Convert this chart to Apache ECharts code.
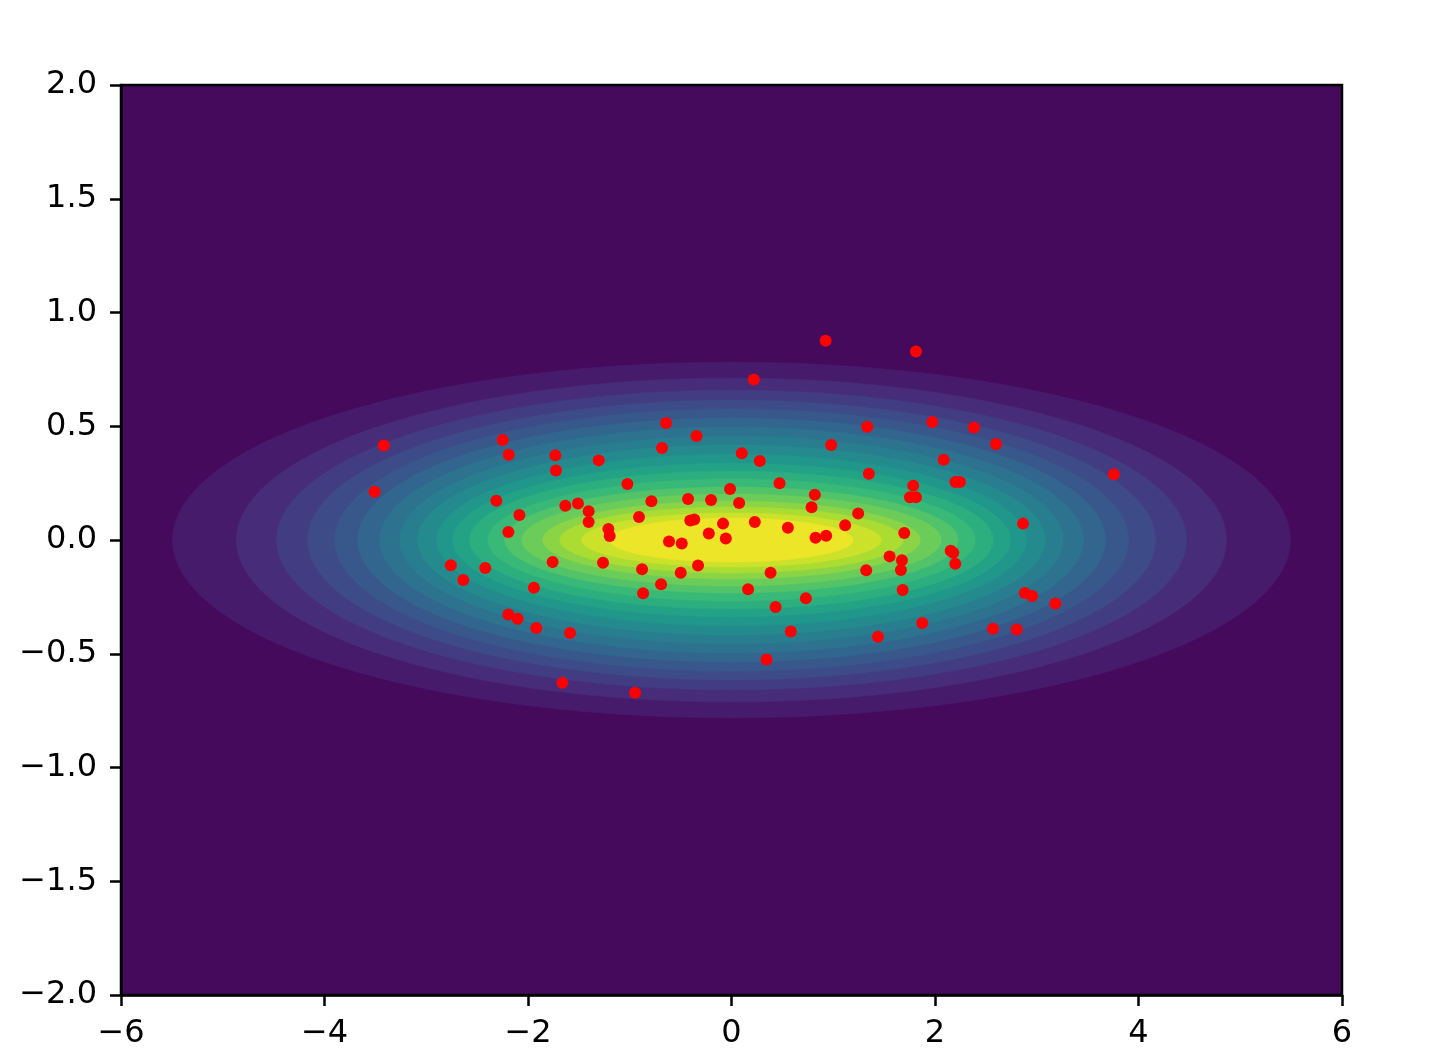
<!DOCTYPE html>
<html>
<head>
<meta charset="utf-8">
<script src="https://cdn.jsdelivr.net/npm/echarts@6/dist/echarts.min.js"></script>
<style>
  html, body { margin: 0; padding: 0; background: #fff; }
  #chart { width: 1435px; height: 1060px; }
</style>
</head>
<body>
<div id="chart"></div>
<script>
// scatter samples (x, y)
const pointsX = [
  -3.417, -3.508, -2.249, -2.190, -1.731, -1.725, -1.305, -2.311, -2.085, -1.633,
  -1.509, -1.404, -1.404, 0.925, 0.219, -0.643, -0.344, -0.683, 0.101, 0.278,
  1.334, 0.980, 1.350, -1.023, -0.787, -0.427, -0.201, -0.014, 0.075, 0.472,
  0.819, 0.787, 1.245, 1.813, 1.973, 2.383, 2.600, 2.085, 2.201, 2.245,
  1.786, 1.754, 1.813, 3.757, -1.210, -1.197, -2.193, -2.758, -2.420, -2.636,
  -1.758, -1.263, -1.942, -2.193, -2.102, -1.918, -1.587, -1.662, -0.909, -0.405,
  -0.366, -0.083, 0.229, 0.554, 1.117, -0.614, -0.489, -0.223, -0.056, 0.826,
  0.930, -0.879, -0.499, -0.329, -0.692, -0.869, 0.384, 0.163, 0.731, 0.433,
  0.583, 0.344, -0.948, 1.324, 2.865, 1.698, 1.554, 1.675, 1.665, 2.154,
  2.180, 2.199, 1.682, 2.882, 2.954, 3.183, 1.875, 2.570, 2.803, 1.439
];
const pointsY = [
  0.415, 0.212, 0.440, 0.375, 0.372, 0.306, 0.350, 0.173, 0.110, 0.151,
  0.160, 0.126, 0.079, 0.876, 0.705, 0.514, 0.457, 0.404, 0.381, 0.347,
  0.498, 0.418, 0.291, 0.246, 0.170, 0.180, 0.176, 0.224, 0.163, 0.249,
  0.199, 0.144, 0.117, 0.829, 0.519, 0.494, 0.422, 0.353, 0.255, 0.255,
  0.239, 0.188, 0.188, 0.289, 0.048, 0.018, 0.035, -0.111, -0.123, -0.176,
  -0.097, -0.100, -0.210, -0.327, -0.346, -0.387, -0.409, -0.628, 0.101, 0.086,
  0.090, 0.072, 0.079, 0.054, 0.065, -0.007, -0.015, 0.029, 0.007, 0.010,
  0.019, -0.129, -0.144, -0.112, -0.195, -0.234, -0.144, -0.217, -0.256, -0.295,
  -0.402, -0.525, -0.671, -0.133, 0.072, 0.031, -0.072, -0.089, -0.132, -0.047,
  -0.056, -0.104, -0.220, -0.233, -0.246, -0.279, -0.365, -0.390, -0.393, -0.425
];

// filled contour levels, outermost first: half widths / half heights
const bandRx = [5.495, 4.866, 4.472, 4.167, 3.902, 3.676, 3.459, 3.262, 3.085, 2.898,
                2.741, 2.574, 2.397, 2.229, 2.062, 1.855, 1.688, 1.472, 1.196];
const bandRy = [0.782, 0.712, 0.659, 0.615, 0.576, 0.536, 0.497, 0.457, 0.418, 0.378,
                0.338, 0.303, 0.268, 0.233, 0.202, 0.171, 0.145, 0.119, 0.097];

const xMin = -6, xMax = 6, xStep = 2;
const yMin = -2, yMax = 2, yStep = 0.5;

// viridis
const viridis = ['#440154', '#482878', '#3e4a89', '#31688e', '#26828e',
                 '#1f9e89', '#35b779', '#6dcd59', '#b4de2c', '#fde725'];

function hex(c) {
  return [1, 3, 5].map(i => parseInt(c.slice(i, i + 2), 16));
}
function cmap(t) {
  const p = t * (viridis.length - 1);
  const i = Math.min(Math.floor(p), viridis.length - 2);
  const f = p - i;
  const a = hex(viridis[i]), b = hex(viridis[i + 1]);
  const c = a.map((v, k) => Math.round(v + (b[k] - v) * f));
  return 'rgb(' + c.join(',') + ')';
}
const nBands = bandRx.length + 1;
const bandColors = [];
for (let i = 0; i < nBands; i++) bandColors.push(cmap((i + 0.5) / nBands));

const minus = v => String(v).replace('-', '\u2212');
const font = 'DejaVu Sans';

const chart = echarts.init(document.getElementById('chart'));
chart.setOption({
  animation: false,
  grid: {
    left: 121, top: 85, width: 1221, height: 910,
    show: true,
    backgroundColor: bandColors[0],
    borderColor: '#000',
    borderWidth: 2.5
  },
  xAxis: {
    type: 'value', min: xMin, max: xMax, interval: xStep,
    axisLine: { onZero: false, lineStyle: { color: '#000', width: 2.5 } },
    axisTick: { length: 11, lineStyle: { color: '#000', width: 2.5 } },
    splitLine: { show: false },
    axisLabel: {
      margin: 23, color: '#000', fontFamily: font, fontSize: 32,
      formatter: v => minus(v)
    }
  },
  yAxis: {
    type: 'value', min: yMin, max: yMax, interval: yStep,
    axisLine: { show: true, onZero: false, lineStyle: { color: '#000', width: 2.5 } },
    axisTick: { show: true, length: 11, lineStyle: { color: '#000', width: 2.5 } },
    splitLine: { show: false },
    axisLabel: {
      margin: 24, color: '#000', fontFamily: font, fontSize: 32,
      formatter: v => minus(v.toFixed(1))
    }
  },
  series: [
    {
      type: 'custom',
      z: 1,
      silent: true,
      data: bandRx.map((r, i) => [0, 0, i]),
      encode: { x: 0, y: 1 },
      renderItem: (params, api) => {
        const i = api.value(2);
        const pts = [];
        for (let a = 0; a < 360; a += 3) {
          const t = a * Math.PI / 180;
          pts.push(api.coord([bandRx[i] * Math.cos(t), bandRy[i] * Math.sin(t)]));
        }
        return {
          type: 'polygon',
          shape: { points: pts },
          style: { fill: bandColors[i + 1], stroke: bandColors[i + 1], lineWidth: 0.5 }
        };
      }
    },
    {
      type: 'scatter',
      z: 5,
      symbolSize: 12,
      itemStyle: { color: '#ff0000', opacity: 1 },
      data: pointsX.map((x, i) => [x, pointsY[i]])
    }
  ]
});
</script>
</body>
</html>
